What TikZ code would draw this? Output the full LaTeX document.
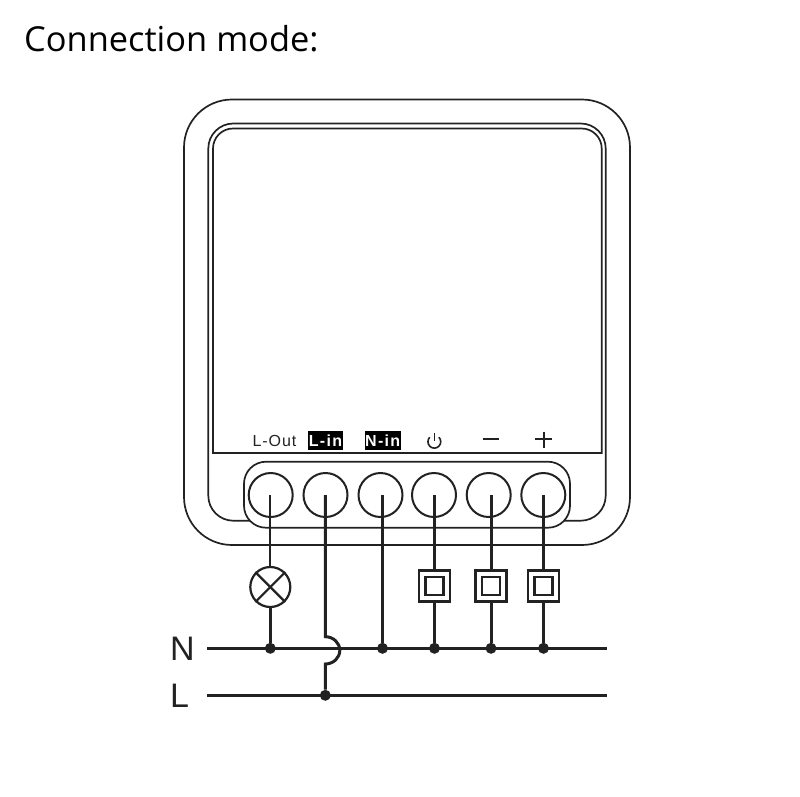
\documentclass[tikz,border=0pt]{standalone}
\usepackage{fontspec}
\setmainfont{Open Sans}
\newfontfamily\labfont[LetterSpace=6]{Liberation Sans}
\newfontfamily\labbold[LetterSpace=8]{Liberation Sans Bold}
\newfontfamily\wirefont{Liberation Sans}
\definecolor{ink}{HTML}{222222}
\tikzset{
  body/.style={draw=ink,line width=1.7pt},
  terminal/.style={circle,draw=ink,line width=2pt,minimum size=44pt,inner sep=0pt},
  thickwire/.style={draw=ink,line width=3pt},
  thinwire/.style={draw=ink,line width=2pt},
  lamp/.style={circle,draw=ink,line width=2.2pt,minimum size=40pt,inner sep=0pt,fill=white},
  outerbox/.style={rectangle,draw=ink,line width=2.4pt,minimum size=31pt,inner sep=0pt,fill=white},
  innerbox/.style={rectangle,draw=ink,line width=2.4pt,minimum size=18pt,inner sep=0pt},
  junction/.style={circle,fill=ink,minimum size=11pt,inner sep=0pt},
  blacklabel/.style={fill=black,text=white,minimum width=35.6pt,minimum height=19pt,inner sep=0pt},
  symbolline/.style={draw=ink,line width=2pt}
}
\begin{document}
\begin{tikzpicture}[x=1pt,y=-1pt]
\useasboundingbox (0,0) rectangle (800,796);
\node[anchor=base west,inner sep=0pt,font=\fontsize{34.4}{40}\selectfont,text=black] (title) at (24,51) {Connection mode:};
% body
\draw[body,rounded corners=48pt] (184,99.5) rectangle (630,545);
\draw[body,rounded corners=25pt] (250,520.7) -- (208.3,520.7) -- (208.3,123.5) -- (605.7,123.5) -- (605.7,520.7) -- (560,520.7);
\draw[body,line cap=rect] (213,453) [rounded corners=20pt] -- (213,128.5) -- (601.7,128.5) [sharp corners] -- (601.7,453) -- (213,453);
\draw[body,fill=white,rounded corners=22pt] (244,461.7) rectangle (570,527.7);
% terminals
\node[terminal] (t1) at (270.7,495) {};
\node[terminal] (t2) at (325.5,495) {};
\node[terminal] (t3) at (380.5,495) {};
\node[terminal] (t4) at (434,495) {};
\node[terminal] (t5) at (488.7,495) {};
\node[terminal] (t6) at (543.3,495) {};
% labels
\node[font=\labfont\fontsize{16}{18}\selectfont,text=ink,inner sep=0pt] (lout) at (274.5,441) {L-Out};
\node[blacklabel,font=\labbold\fontsize{16}{18}\selectfont] (lin) at (325.5,440.5) {L-in};
\node[blacklabel,font=\labbold\fontsize{16}{18}\selectfont] (nin) at (382.7,440.5) {N-in};
% power symbol, minus, plus
\draw[symbolline,line width=1.6pt] (429.8,437.2) arc[start angle=-135,end angle=-405,radius=6.4];
\draw[symbolline,line width=1.6pt] (434.3,432.7) -- (434.3,440.5);
\draw[symbolline] (482.7,439.4) -- (499.3,439.4);
\draw[symbolline] (535,439.4) -- (552,439.4);
\draw[symbolline] (543.5,431.5) -- (543.5,447.7);
% bus lines
\coordinate (nstart) at (207.3,648.3);
\coordinate (nend) at (606.7,648.3);
\coordinate (lstart) at (207.3,695.3);
\coordinate (lend) at (606.7,695.3);
\node[junction] (j1) at (270.3,648.3) {};
\node[junction] (j2) at (325.3,695.3) {};
\node[junction] (j3) at (382.5,648.3) {};
\node[junction] (j4) at (434.5,648.3) {};
\node[junction] (j5) at (491,648.3) {};
\node[junction] (j6) at (543.5,648.3) {};
\draw[thickwire] (nstart) -- (nend);
\draw[thickwire] (lstart) -- (lend);
% devices
\node[lamp] (lampnode) at (270.3,587) {};
\node[outerbox] (b4) at (434.5,586) {};
\node[outerbox] (b5) at (491,586) {};
\node[outerbox] (b6) at (543.5,586) {};
\node[innerbox] (i4) at (434.5,586) {};
\node[innerbox] (i5) at (491,586) {};
\node[innerbox] (i6) at (543.5,586) {};
\draw[thinwire,line width=2.2pt] (lampnode.45) -- (lampnode.225);
\draw[thinwire,line width=2.2pt] (lampnode.135) -- (lampnode.315);
% wires
\draw[thinwire] (270.3,495) -- (lampnode.north);
\draw[thickwire] (lampnode.south) -- (j1);
\coordinate (hoptop) at (325.3,636.7);
\draw[thickwire] (325.3,495) -- (hoptop) arc[start angle=-90,end angle=90,x radius=14.5,y radius=13.65] -- (j2);
\draw[thickwire] (382.5,495) -- (j3);
\draw[thickwire] (434.5,495) -- (b4.north);
\draw[thickwire] (b4.south) -- (j4);
\draw[thickwire] (491,495) -- (b5.north);
\draw[thickwire] (b5.south) -- (j5);
\draw[thickwire] (543.5,495) -- (b6.north);
\draw[thickwire] (b6.south) -- (j6);
% bus names
\node[anchor=base west,inner sep=0pt,font=\wirefont\fontsize{34}{38}\selectfont,text=ink] (ntext) at (170,660) {N};
\node[anchor=base west,inner sep=0pt,font=\wirefont\fontsize{34}{38}\selectfont,text=ink] (ltext) at (170,707) {L};
\end{tikzpicture}
\end{document}
